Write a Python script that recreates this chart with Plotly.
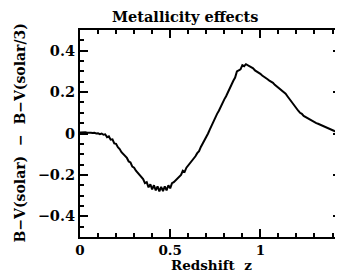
import plotly.graph_objects as go

# Redshift grid (step 0.01 from 0 to 1.45)
redshift = [round(i * 0.01, 2) for i in range(146)]

# B-V(solar) - B-V(solar/3)
delta_bv = [
    0.005, 0.006, 0.005, 0.006, 0.004, 0.005, 0.004, 0.002, 0.003, 0.000,
    0.001, -0.003, 0.000, -0.006, -0.004, -0.018, -0.014, -0.030, -0.028, -0.048,
    -0.050, -0.066, -0.075, -0.090, -0.098, -0.110, -0.118, -0.135, -0.140, -0.160,
    -0.165, -0.180, -0.190, -0.200, -0.215, -0.220, -0.240, -0.235, -0.260, -0.245,
    -0.270, -0.250, -0.275, -0.255, -0.280, -0.258, -0.278, -0.255, -0.275, -0.250,
    -0.265, -0.240, -0.235, -0.225, -0.220, -0.205, -0.200, -0.180, -0.185, -0.165,
    -0.155, -0.140, -0.135, -0.120, -0.110, -0.095, -0.085, -0.065, -0.050, -0.035,
    -0.015, 0.000, 0.020, 0.040, 0.060, 0.075, 0.095, 0.110, 0.130, 0.150,
    0.165, 0.180, 0.200, 0.215, 0.235, 0.255, 0.270, 0.300, 0.305, 0.310,
    0.330, 0.325, 0.335, 0.330, 0.325, 0.320, 0.315, 0.305, 0.300, 0.292,
    0.288, 0.280, 0.275, 0.268, 0.262, 0.255, 0.250, 0.245, 0.235, 0.228,
    0.222, 0.215, 0.210, 0.200, 0.192, 0.180, 0.168, 0.155, 0.140, 0.128,
    0.118, 0.110, 0.100, 0.095, 0.085, 0.080, 0.072, 0.068, 0.062, 0.058,
    0.055, 0.050, 0.047, 0.043, 0.040, 0.036, 0.030, 0.026, 0.022, 0.018,
    0.015, 0.012, 0.010, 0.012, 0.010, 0.010,
]

x_ticks = [0, 0.5, 1]
x_tick_labels = ["<b>0</b>", "<b>0.5</b>", "<b>1</b>"]
y_ticks = [-0.4, -0.2, 0, 0.2, 0.4]
y_tick_labels = ["<b>\u22120.4</b>", "<b>\u22120.2</b>", "<b>0</b>", "<b>0.2</b>", "<b>0.4</b>"]

FONT = "DejaVu Serif"
OFF = 8  # page body margin
W, H = 343 - OFF, 272 - OFF
L, R, T, B = 80 - OFF, 0, 30 - OFF, 35

fig = go.Figure()
fig.add_trace(go.Scatter(x=redshift, y=delta_bv, mode="lines",
                         line=dict(color="black", width=2), showlegend=False))

axis_common = dict(showline=True, linecolor="black", linewidth=2, mirror="ticks",
                   ticks="inside", ticklen=8, tickwidth=1.5, tickcolor="black",
                   showgrid=False, zeroline=False)

fig.update_xaxes(range=[0, 1.447], tickvals=x_ticks, ticktext=x_tick_labels,
                 tickfont=dict(family=FONT, size=13.5, color="black"),
                 minor=dict(dtick=0.1, ticklen=4, tickwidth=1.5, tickcolor="black", ticks="inside"),
                 **axis_common)
fig.update_yaxes(range=[-0.5, 0.5], tickvals=y_ticks, ticktext=y_tick_labels,
                 tickfont=dict(family=FONT, size=14.5, color="black"),
                 minor=dict(dtick=0.05, ticklen=4, tickwidth=1.5, tickcolor="black", ticks="inside"),
                 **axis_common)

pw = W - L - R
ph = H - T - B

def px_x(x):
    return (x - OFF - L) / pw

def px_y(y):
    return (H - B - (y - OFF)) / ph

fig.add_annotation(text="<b>Metallicity effects</b>", xref="paper", yref="paper",
                   x=px_x(186), y=px_y(17), xanchor="center", yanchor="middle",
                   showarrow=False, font=dict(family=FONT, size=14.5, color="black"))
fig.add_annotation(text="<b>Redshift  z</b>", xref="paper", yref="paper",
                   x=px_x(213), y=px_y(264.5), xanchor="center", yanchor="middle",
                   showarrow=False, font=dict(family=FONT, size=13.5, color="black"))
fig.add_annotation(text="<b>B\u2212V(solar)  \u2212  B\u2212V(solar/3)</b>", xref="paper", yref="paper",
                   x=px_x(20), y=px_y(133), xanchor="center", yanchor="middle",
                   textangle=-90, showarrow=False,
                   font=dict(family=FONT, size=14, color="black"))

fig.update_layout(width=W, height=H, margin=dict(l=L, r=R, t=T, b=B),
                  paper_bgcolor="white", plot_bgcolor="white")

fig.write_html("out.html")
